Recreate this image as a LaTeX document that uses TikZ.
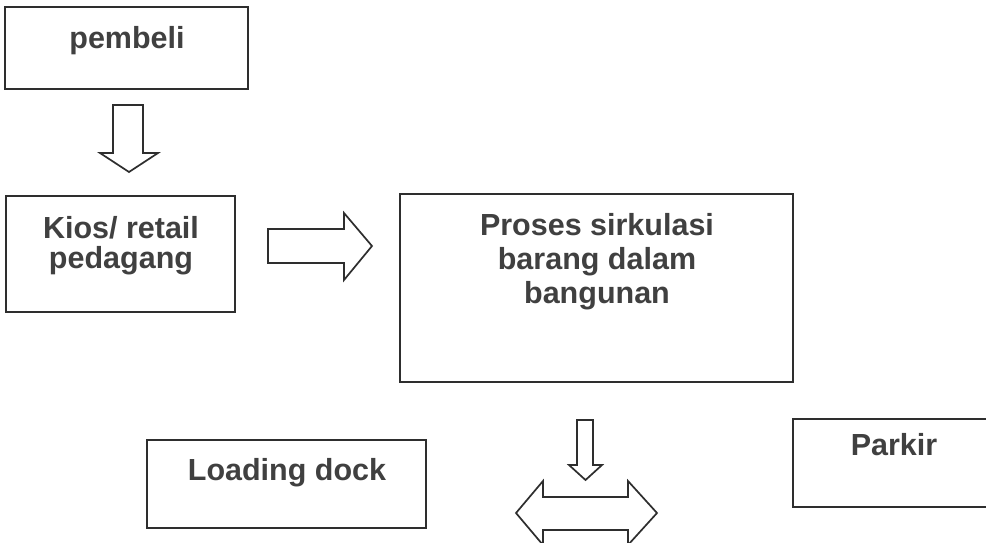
\documentclass[tikz,border=0pt]{standalone}
\usepackage{fontspec}
\setmainfont{Liberation Sans}
\begin{document}
\begin{tikzpicture}[x=1pt,y=-1pt,
  ink/.style={draw=black!82, line width=1.7pt},
  box/.style={ink, rectangle, inner sep=0pt},
  lbl/.style={text=black!75, font=\fontsize{30.5}{34}\bfseries\selectfont, inner sep=0pt, align=center},
  blockarrow/.style={ink, line join=miter, fill=white}]
\path[use as bounding box, clip] (0,0) rectangle (986,542);
\fill[white] (0,0) rectangle (986,542);
% boxes
\node[box, minimum width=243pt, minimum height=82pt] (pembeli) at (126.5,48) {};
\node[box, minimum width=229pt, minimum height=116pt] (kios) at (120.5,254) {};
\node[box, minimum width=393pt, minimum height=188pt] (proses) at (596.5,288) {};
\node[box, minimum width=279pt, minimum height=88pt] (loading) at (286.5,484) {};
\node[box, minimum width=217pt, minimum height=88pt] (parkir) at (901.5,463) {};
% labels
\node[lbl, anchor=base] (pembeli-t) at (127,48) {pembeli};
\node[lbl, anchor=base] (kios-t1) at (121,238) {Kios/ retail};
\node[lbl, anchor=base] (kios-t2) at (121,268) {pedagang};
\node[lbl, anchor=base] (proses-t1) at (597,235) {Proses sirkulasi};
\node[lbl, anchor=base] (proses-t2) at (597,269) {barang dalam};
\node[lbl, anchor=base] (proses-t3) at (597,303) {bangunan};
\node[lbl, anchor=base] (loading-t) at (287,480) {Loading dock};
\node[lbl, anchor=base] (parkir-t) at (894,455) {Parkir};
% block arrows
\draw[blockarrow] (113,105) -- (143,105) -- (143,153) -- (158,153) -- (129,172) -- (100,153) -- (113,153) -- cycle;
\draw[blockarrow] (268,229) -- (344,229) -- (344,213) -- (372,246) -- (344,280) -- (344,263) -- (268,263) -- cycle;
\draw[blockarrow] (577,420) -- (593,420) -- (593,465) -- (602,465) -- (585.5,480) -- (569,465) -- (577,465) -- cycle;
\draw[blockarrow] (516,513) -- (543,481) -- (543,497) -- (628,497) -- (628,481) -- (657,513) -- (628,545) -- (628,530) -- (543,530) -- (543,545) -- cycle;
\end{tikzpicture}
\end{document}
